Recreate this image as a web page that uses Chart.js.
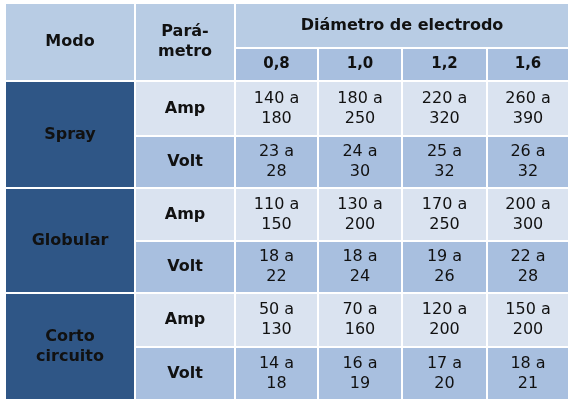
<!DOCTYPE html>
<html lang="es">
<head>
<meta charset="UTF-8">
<title>Parámetros por modo de transferencia</title>
<script src="https://cdn.jsdelivr.net/npm/chart.js@4"></script>
<style>
  html, body { margin: 0; padding: 0; background: #fff; }
  #wrap { width: 572px; height: 406px; }
</style>
</head>
<body>
<div id="wrap"><canvas id="tabla"></canvas></div>
<script>
// datos de la tabla
const modos = ['Spray', 'Globular', 'Corto\ncircuito'];
const parametros = ['Amp', 'Volt'];
const diametros = ['0,8', '1,0', '1,2', '1,6'];
const titulo = 'Diámetro de electrodo';
// una fila por modo y parámetro, una columna por diámetro
const valores = [
  ['140 a\n180', '180 a\n250', '220 a\n320', '260 a\n390'],
  ['23 a\n28', '24 a\n30', '25 a\n32', '26 a\n32'],
  ['110 a\n150', '130 a\n200', '170 a\n250', '200 a\n300'],
  ['18 a\n22', '18 a\n24', '19 a\n26', '22 a\n28'],
  ['50 a\n130', '70 a\n160', '120 a\n200', '150 a\n200'],
  ['14 a\n18', '16 a\n19', '17 a\n20', '18 a\n21']
];

// geometría (en unidades de los ejes)
const colX = [5, 135, 235, 318, 402, 487, 569];
const rowY = [3, 48, 81, 136, 188, 241, 293, 347, 400];
const FONT = '"DejaVu Sans", sans-serif';

function celda(ctx, sx, sy, x0, y0, x1, y1, fondo, texto, peso, tam) {
  const px0 = sx.getPixelForValue(x0), px1 = sx.getPixelForValue(x1);
  const py0 = sy.getPixelForValue(y0), py1 = sy.getPixelForValue(y1);
  ctx.fillStyle = fondo;
  ctx.fillRect(px0, py0, px1 - px0, py1 - py0);
  ctx.strokeStyle = '#ffffff';
  ctx.lineWidth = 2;
  ctx.strokeRect(px0, py0, px1 - px0, py1 - py0);
  const lineas = texto.split('\n');
  const lh = tam * 1.25;
  ctx.fillStyle = '#111';
  ctx.font = peso + ' ' + tam + 'px ' + FONT;
  ctx.textAlign = 'center';
  ctx.textBaseline = 'middle';
  const cx = (px0 + px1) / 2, cy = (py0 + py1) / 2;
  lineas.forEach((l, i) => ctx.fillText(l, cx, cy + (i - (lineas.length - 1) / 2) * lh));
}

const tablaPlugin = {
  id: 'tabla',
  afterDraw(chart) {
    const ctx = chart.ctx, sx = chart.scales.x, sy = chart.scales.y;
    ctx.save();
    celda(ctx, sx, sy, colX[0], rowY[0], colX[1], rowY[2], '#b8cce4', 'Modo', 'bold', 16);
    celda(ctx, sx, sy, colX[1], rowY[0], colX[2], rowY[2], '#b8cce4', 'Pará-\nmetro', 'bold', 16);
    celda(ctx, sx, sy, colX[2], rowY[0], colX[6], rowY[1], '#b8cce4', titulo, 'bold', 16);
    diametros.forEach((d, j) =>
      celda(ctx, sx, sy, colX[2 + j], rowY[1], colX[3 + j], rowY[2], '#a8bfdf', d, 'bold', 15));
    modos.forEach((m, i) =>
      celda(ctx, sx, sy, colX[0], rowY[2 + 2 * i], colX[1], rowY[4 + 2 * i], '#2f5686', m, 'bold', 16));
    valores.forEach((fila, r) => {
      const fondo = r % 2 === 0 ? '#dae3f0' : '#a8bfdf';
      celda(ctx, sx, sy, colX[1], rowY[2 + r], colX[2], rowY[3 + r], fondo, parametros[r % 2], 'bold', 16);
      fila.forEach((v, j) =>
        celda(ctx, sx, sy, colX[2 + j], rowY[2 + r], colX[3 + j], rowY[3 + r], fondo, v, 'normal', 16));
    });
    ctx.restore();
  }
};

new Chart(document.getElementById('tabla'), {
  type: 'scatter',
  data: { datasets: [{ data: [] }] },
  options: {
    responsive: true,
    maintainAspectRatio: false,
    animation: false,
    layout: { padding: 0 },
    plugins: { legend: { display: false }, tooltip: { enabled: false } },
    scales: {
      x: { type: 'linear', min: 0, max: 572, display: false },
      y: { type: 'linear', min: 0, max: 406, reverse: true, display: false }
    }
  },
  plugins: [tablaPlugin]
});
</script>
</body>
</html>
